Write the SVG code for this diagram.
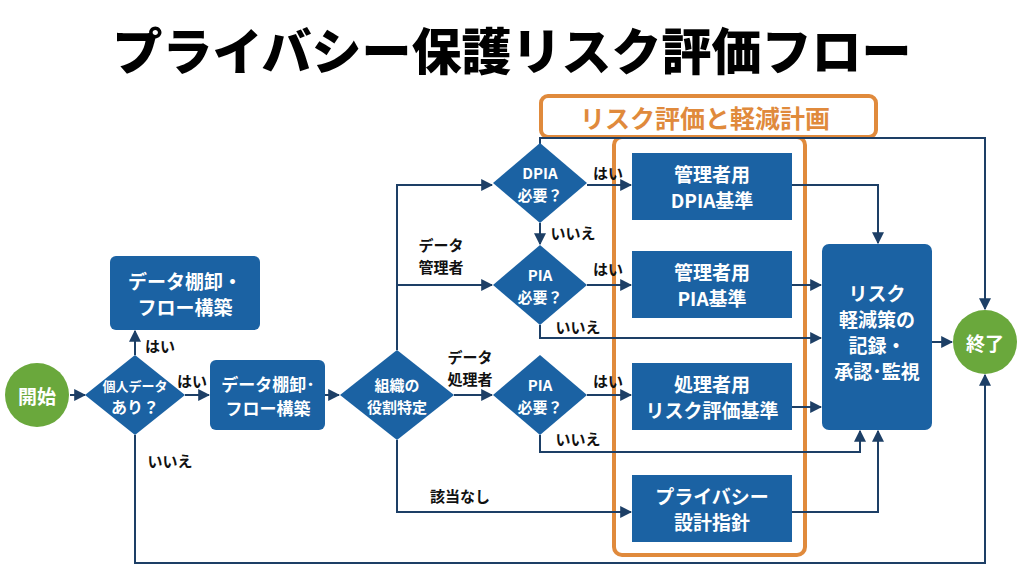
<svg xmlns="http://www.w3.org/2000/svg" width="1024" height="572" viewBox="0 0 1024 572">
<defs>
<style>
text{font-family:"Noto Sans CJK JP","Noto Sans",sans-serif;font-weight:bold;text-anchor:middle;dominant-baseline:central}
.n{fill:#1b62a3}
.w{fill:#fff;font-size:19px}
.l{fill:#111;font-size:15px}
.c{fill:none;stroke:#1d3f66;stroke-width:2;marker-end:url(#a)}
.g{fill:#6aa83c}
</style>
<marker id="a" viewBox="0 0 10 10" refX="9" refY="5" markerWidth="6" markerHeight="6" orient="auto"><path d="M0,0L10,5L0,10z" fill="#1d3f66"/></marker>
</defs>
<rect width="1024" height="572" fill="#fff"/>
<text x="512" y="48" style="font-size:50px;font-weight:900" fill="#000">プライバシー保護リスク評価フロー</text>
<g id="frame">
<rect x="614" y="137" width="191" height="418" rx="8" fill="none" stroke="#e08a3c" stroke-width="4"/>
<rect x="541" y="96" width="335" height="41" rx="7" fill="#fff" stroke="#e08a3c" stroke-width="4"/>
<text x="705" y="117" style="font-size:25px" fill="#e08a3c">リスク評価と軽減計画</text>
</g>
<g id="connectors">
<path class="c" d="M70,395H85"/>
<path class="c" d="M135,355V331"/>
<path class="c" d="M185,395H209"/>
<path class="c" d="M135,435V563H985V375"/>
<path class="c" d="M325,395H339"/>
<path class="c" d="M397,350V185H492"/>
<path class="c" d="M397,285H492"/>
<path class="c" d="M454,395H492"/>
<path class="c" d="M397,440V512H631"/>
<path class="c" d="M587,185H631"/>
<path class="c" d="M540,223V244"/>
<path class="c" d="M587,285H631"/>
<path class="c" d="M540,325V338H821"/>
<path class="c" d="M587,395H631"/>
<path class="c" d="M540,435V452H860V431"/>
<path class="c" d="M792,512H878V431"/>
<path class="c" d="M792,185H878V243"/>
<path class="c" d="M792,285H821"/>
<path class="c" d="M792,407H821"/>
<path class="c" d="M932,342H952"/>
<path class="c" d="M540,145V138H985V309"/>
</g>
<g id="labels">
<text class="l" x="160" y="345">はい</text>
<text class="l" x="192" y="380">はい</text>
<text class="l" x="170" y="460">いいえ</text>
<text class="l" x="441" y="244">データ</text>
<text class="l" x="441" y="266">管理者</text>
<text class="l" x="470" y="356">データ</text>
<text class="l" x="470" y="378">処理者</text>
<text class="l" x="460" y="495">該当なし</text>
<text class="l" x="608" y="172">はい</text>
<text class="l" x="573" y="232">いいえ</text>
<text class="l" x="608" y="268">はい</text>
<text class="l" x="578" y="326">いいえ</text>
<text class="l" x="608" y="380">はい</text>
<text class="l" x="578" y="438">いいえ</text>
</g>
<g id="start"><circle class="g" cx="37" cy="395" r="32"/><text class="w" x="37" y="395">開始</text></g>
<g id="d1"><path class="n" d="M135,355L185,395L135,435L85,395z"/><text class="w" x="135" y="385" style="font-size:13px">個人データ</text><text class="w" x="135" y="406" style="font-size:16px">あり？</text></g>
<g id="b0"><rect class="n" x="110" y="256" width="150" height="74" rx="6"/><text class="w" x="185" y="280">データ棚卸・</text><text class="w" x="185" y="306">フロー構築</text></g>
<g id="b1"><rect class="n" x="210" y="360" width="115" height="70" rx="6"/><text class="w" x="268" y="383" style="font-size:17px">データ棚卸･</text><text class="w" x="268" y="407" style="font-size:17px">フロー構築</text></g>
<g id="org"><path class="n" d="M397,350L454,395L397,440L340,395z"/><text class="w" x="397" y="384" style="font-size:15px">組織の</text><text class="w" x="397" y="406" style="font-size:15px">役割特定</text></g>
<g id="dpia"><path class="n" d="M540,143L587,183L540,223L493,183z"/><text class="w" x="540" y="172" style="font-size:15px">DPIA</text><text class="w" x="540" y="194" style="font-size:15px">必要？</text></g>
<g id="pia1"><path class="n" d="M540,245L587,285L540,325L493,285z"/><text class="w" x="540" y="274" style="font-size:15px">PIA</text><text class="w" x="540" y="296" style="font-size:15px">必要？</text></g>
<g id="pia2"><path class="n" d="M540,355L587,395L540,435L493,395z"/><text class="w" x="540" y="384" style="font-size:15px">PIA</text><text class="w" x="540" y="406" style="font-size:15px">必要？</text></g>
<g id="r1"><rect class="n" x="632" y="153" width="160" height="67"/><text class="w" x="712" y="173">管理者用</text><text class="w" x="712" y="199">DPIA基準</text></g>
<g id="r2"><rect class="n" x="632" y="251" width="160" height="67"/><text class="w" x="712" y="271">管理者用</text><text class="w" x="712" y="297">PIA基準</text></g>
<g id="r3"><rect class="n" x="632" y="363" width="160" height="67"/><text class="w" x="712" y="383">処理者用</text><text class="w" x="712" y="409">リスク評価基準</text></g>
<g id="r4"><rect class="n" x="632" y="475" width="160" height="67"/><text class="w" x="712" y="495">プライバシー</text><text class="w" x="712" y="521">設計指針</text></g>
<g id="mit"><rect class="n" x="822" y="244" width="110" height="186" rx="7"/><text class="w" x="877" y="292">リスク</text><text class="w" x="877" y="318">軽減策の</text><text class="w" x="877" y="344">記録・</text><text class="w" x="877" y="370">承認･監視</text></g>
<g id="end"><circle class="g" cx="985" cy="342" r="32"/><text class="w" x="985" y="342">終了</text></g>
</svg>
